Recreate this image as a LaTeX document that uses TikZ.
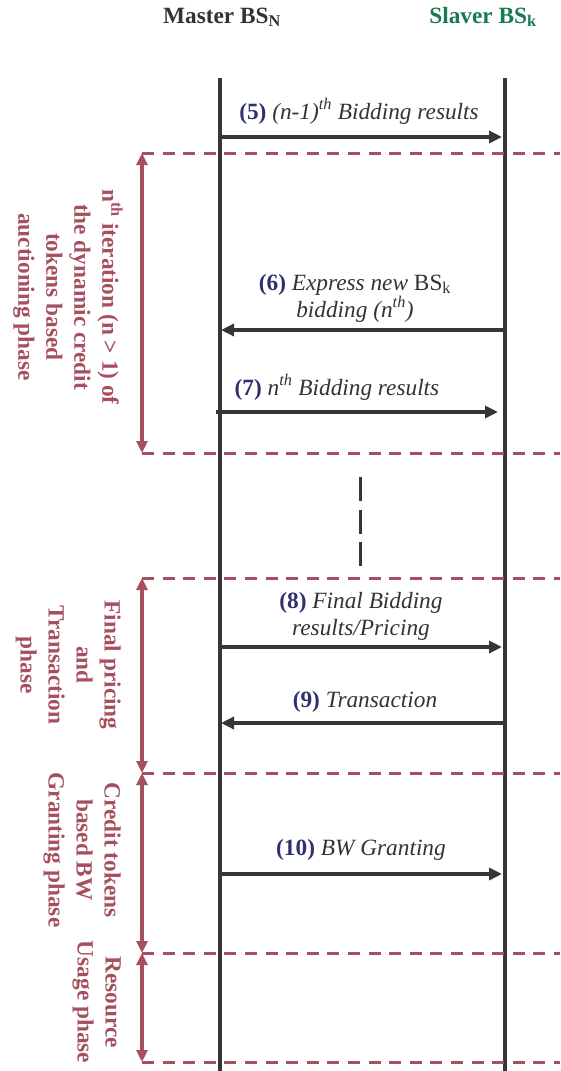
\documentclass[tikz,border=0pt]{standalone}
\usepackage{fontspec}
\setmainfont{Liberation Serif}[UprightFont={Liberation Serif},BoldFont={Liberation Serif Bold},ItalicFont={Liberation Serif Italic},BoldItalicFont={Liberation Serif Bold Italic}]
\usetikzlibrary{arrows.meta}
\definecolor{lifec}{HTML}{36363A}
\definecolor{phasec}{HTML}{A6505F}
\definecolor{numc}{HTML}{2E3070}
\definecolor{slavec}{HTML}{1A7A50}
\definecolor{txtc}{HTML}{333333}
\newcommand{\stepnum}[1]{\textcolor{numc}{\textbf{(#1)}}}
\begin{document}
\begin{tikzpicture}[x=1pt,y=-1pt,
 lifeline/.style={line width=4pt,draw=lifec},
 msg/.style={line width=4pt,draw=lifec,-{Triangle[length=13pt,width=12pt]}},
 phasesep/.style={line width=3pt,draw=phasec,dash pattern=on 12pt off 8.6pt},
 phasearrow/.style={line width=3.5pt,draw=phasec,{Triangle[length=12pt,width=11pt]}-{Triangle[length=12pt,width=11pt]}},
 gapline/.style={line width=3pt,draw=lifec,dash pattern=on 24pt off 8.5pt},
 lbl/.style={font=\fontsize{23.3}{27}\selectfont,text=txtc,anchor=base,inner sep=0pt,align=center},
 head/.style={font=\fontsize{23.3}{27}\selectfont\bfseries,anchor=base,inner sep=0pt},
 phaselbl/.style={font=\fontsize{23.3}{28}\selectfont\bfseries,text=phasec,rotate=-90,anchor=north,align=center,inner sep=0pt},
]
\path[use as bounding box] (0,0) rectangle (560,1071);
% headings
\node[head,text=txtc] (master) at (222,23) {Master BS\textsubscript{N}};
\node[head,text=slavec] (slaver) at (483,23) {Slaver BS\textsubscript{k}};
% lifelines
\coordinate (mtop) at (220,78); \coordinate (mbot) at (220,1071);
\coordinate (stop) at (505,78); \coordinate (sbot) at (505,1071);
\draw[lifeline] (mtop) -- (mbot);
\draw[lifeline] (stop) -- (sbot);
% phase separators
\foreach \i/\y in {1/153,2/453,3/578,4/773,5/953,6/1062}{
  \coordinate (sepL\i) at (142,\y);
  \coordinate (sepR\i) at (560,\y);
  \draw[phasesep] (sepL\i) -- (sepR\i);
}
% phase arrows
\draw[phasearrow] (sepL1) -- (sepL2);
\draw[phasearrow] (sepL3) -- (sepL4);
\draw[phasearrow] (sepL4) -- (sepL5);
\draw[phasearrow] (sepL5) -- (sepL6);
% phase labels
\node[phaselbl] (ph1) at (123,297) {n\textsuperscript{th} iteration (n > 1) of\\ the dynamic credit\\ tokens based\\ auctioning phase};
\node[phaselbl] (ph2) at (121,665) {Final pricing\\ and\\ Transaction\\ phase};
\node[phaselbl] (ph3) at (121,850) {Credit tokens\\ based BW\\ Granting phase};
\node[phaselbl] (ph4) at (121,1002) {Resource\\ Usage phase};
% messages
\coordinate (m5) at (220,137); \coordinate (s5) at (502,137);
\draw[msg] (m5) -- (s5);
\node[lbl] (l5) at (359,119) {\stepnum{5} \textit{(n-1)\textsuperscript{th} Bidding results}};
\coordinate (s6) at (503,330); \coordinate (m6) at (221,330);
\draw[msg] (s6) -- (m6);
\node[lbl] (l6) at (355,317) {\stepnum{6} \textit{Express new} BS\textsubscript{k}\\ \textit{bidding (n\textsuperscript{th})}};
\coordinate (m7) at (216,412); \coordinate (s7) at (498,412);
\draw[msg] (m7) -- (s7);
\node[lbl] (l7) at (337,395) {\stepnum{7} \textit{n\textsuperscript{th} Bidding results}};
\coordinate (m8) at (220,647); \coordinate (s8) at (502,647);
\draw[msg] (m8) -- (s8);
\node[lbl] (l8) at (361,635) {\stepnum{8} \textit{Final Bidding}\\ \textit{results/Pricing}};
\coordinate (s9) at (503,723); \coordinate (m9) at (221,723);
\draw[msg] (s9) -- (m9);
\node[lbl] (l9) at (365,707) {\stepnum{9} \textit{Transaction}};
\coordinate (m10) at (220,874); \coordinate (s10) at (502,874);
\draw[msg] (m10) -- (s10);
\node[lbl] (l10) at (361,855) {\stepnum{10} \textit{BW Granting}};
% gap indicator
\coordinate (gapT) at (360,477); \coordinate (gapB) at (360,566);
\draw[gapline] (gapT) -- (gapB);
\end{tikzpicture}
\end{document}
